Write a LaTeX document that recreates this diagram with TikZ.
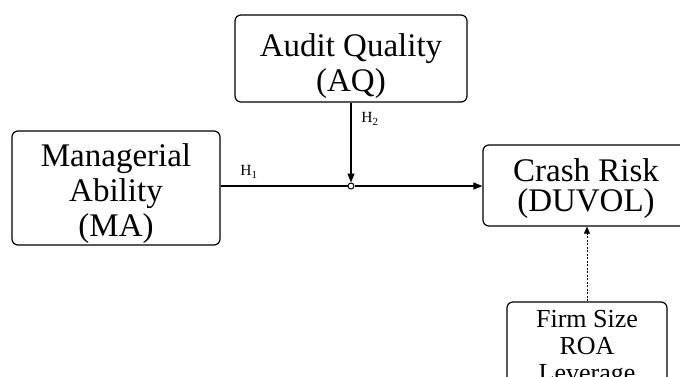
\documentclass[tikz,border=0pt]{standalone}
\usepackage{fontspec}
\setmainfont{Liberation Serif}
\usetikzlibrary{arrows.meta}
\tikzset{
  box/.style={draw, line width=1.2pt, rounded corners=6pt, inner sep=0pt},
  boxtext/.style={align=center, inner sep=0pt},
  conn/.style={line width=1.1pt, -{Triangle[length=9pt,width=7pt]}},
  dconn/.style={line width=0.6pt, dash pattern=on 2pt off 1.5pt, -{Triangle[length=7pt,width=6pt]}},
  hlab/.style={font=\fontsize{15.5}{17}\selectfont, inner sep=0pt},
  junction/.style={circle, draw, line width=1pt, fill=white, inner sep=0pt, minimum size=6pt}
}
\begin{document}
\begin{tikzpicture}[x=1pt,y=-1pt]
\useasboundingbox (0,0) rectangle (680,376);
\node[box, minimum width=232pt, minimum height=87pt] (AQ) at (351,58.5) {};
\node[boxtext, font=\fontsize{33}{35}\selectfont] (AQt) at (351,66) {Audit Quality\\(AQ)};
\node[box, minimum width=208pt, minimum height=114pt] (MA) at (116,188) {};
\node[boxtext, font=\fontsize{33}{35}\selectfont] (MAt) at (116,194) {Managerial\\Ability\\(MA)};
\node[box, minimum width=206pt, minimum height=81pt] (CR) at (586,185.5) {};
\node[boxtext, font=\fontsize{33}{30}\selectfont] (CRt) at (586,189) {Crash Risk\\(DUVOL)};
\node[box, minimum width=160pt, minimum height=96pt] (CT) at (587,350) {};
\node[boxtext, font=\fontsize{26}{27}\selectfont] (CTt) at (587,349) {Firm Size\\ROA\\Leverage};
\coordinate (j) at (351,186);
\node[junction] (J) at (j) {};
\draw[line width=1.1pt] (MA.east |- j) -- (J.west);
\draw[conn] (J.east) -- (CR.west |- j);
\draw[conn] (AQ.south) -- (J.north);
\draw[dconn] (CT.north) -- (CR.south -| CT.north);
\node[hlab] (H1) at (249,172) {H\textsubscript{1}};
\node[hlab] (H2) at (370,119) {H\textsubscript{2}};
\end{tikzpicture}
\end{document}
